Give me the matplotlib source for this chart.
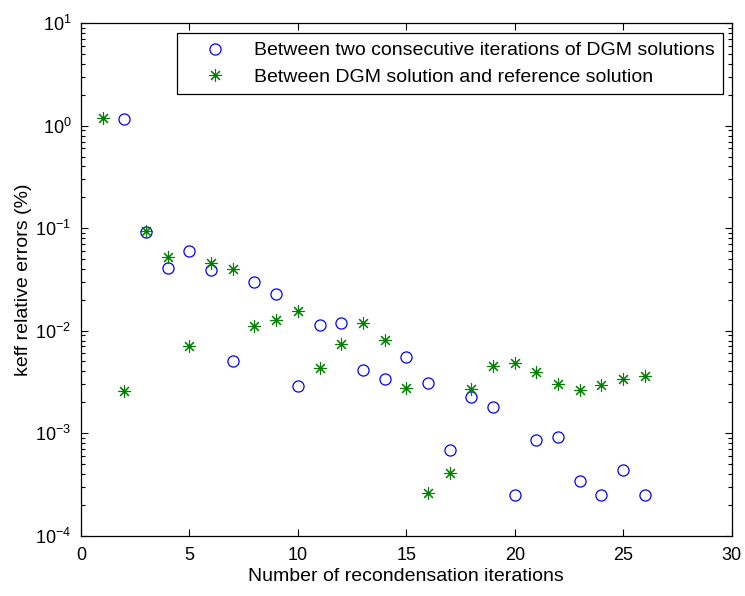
import numpy as np
import matplotlib
matplotlib.use('agg')
import matplotlib.pyplot as plt
from matplotlib.ticker import LogLocator, NullFormatter, MultipleLocator

plt.rcParams['font.family'] = ['Liberation Sans', 'DejaVu Sans']
plt.rcParams['mathtext.fontset'] = 'custom'
plt.rcParams['mathtext.rm'] = 'Liberation Sans'
plt.rcParams['mathtext.it'] = 'Liberation Sans:italic'
plt.rcParams['mathtext.bf'] = 'Liberation Sans:bold'
plt.rcParams['mathtext.default'] = 'regular'

## Data
iter_consec = np.arange(2, 27)
err_consec = [1.155, 0.091, 0.0407, 0.0605, 0.039, 0.00509, 0.0297, 0.0229,
              0.00286, 0.0114, 0.0119, 0.00416, 0.0034, 0.0055, 0.0031,
              0.000676, 0.00226, 0.00179, 0.000251, 0.00086, 0.00091,
              0.00034, 0.000247, 0.00044, 0.000247]

iter_ref = np.arange(1, 27)
err_ref = [1.19, 0.0026, 0.093, 0.0524, 0.00714, 0.0461, 0.040, 0.0112,
           0.0127, 0.0157, 0.00429, 0.0074, 0.0118, 0.00816, 0.00275,
           0.000262, 0.00041, 0.0027, 0.0045, 0.00478, 0.00394, 0.00299,
           0.00262, 0.00294, 0.00335, 0.00363]

label_consec = 'Between two consecutive iterations of DGM solutions'
label_ref = 'Between DGM solution and reference solution'

fig = plt.figure(figsize=(7.45, 5.96), dpi=100)
ax = fig.add_axes([0.1087, 0.1015, 0.8733, 0.8595])

ax.semilogy(iter_consec, err_consec, 'o', mfc='none', mec=(0, 0, 1),
            ms=8, mew=0.9, label=label_consec)
ax.semilogy(iter_ref, err_ref, linestyle='none', marker=(8, 2, 0),
            color=(0, 0.5, 0), ms=9, mew=0.8, label=label_ref)

ax.set_xlim(0, 30)
ax.set_ylim(1e-4, 10)
ax.xaxis.set_major_locator(MultipleLocator(5))
ax.yaxis.set_major_locator(LogLocator(base=10, numticks=10))
ax.yaxis.set_minor_locator(LogLocator(base=10, subs=np.arange(2, 10), numticks=10))
ax.yaxis.set_minor_formatter(NullFormatter())

ax.tick_params(which='both', direction='in', top=True, right=True,
               labelsize=13, width=0.8)
ax.tick_params(axis='x', pad=8.5)
ax.tick_params(axis='y', pad=7)
ax.tick_params(which='major', length=5)
ax.tick_params(which='minor', length=3)
for s in ax.spines.values():
    s.set_linewidth(0.9)

ax.set_xlabel('Number of recondensation iterations', fontsize=14, labelpad=3)
ax.set_ylabel('keff relative errors (%)', fontsize=14, labelpad=2)

leg = ax.legend(loc='upper right', bbox_to_anchor=(0.987, 0.981),
                borderaxespad=0, fancybox=False, edgecolor='black',
                framealpha=1, fontsize=14, handlelength=3.0,
                handletextpad=0.5, borderpad=0.45, labelspacing=0.45)
leg.get_frame().set_linewidth(0.9)

plt.savefig('out.png', dpi=100)
